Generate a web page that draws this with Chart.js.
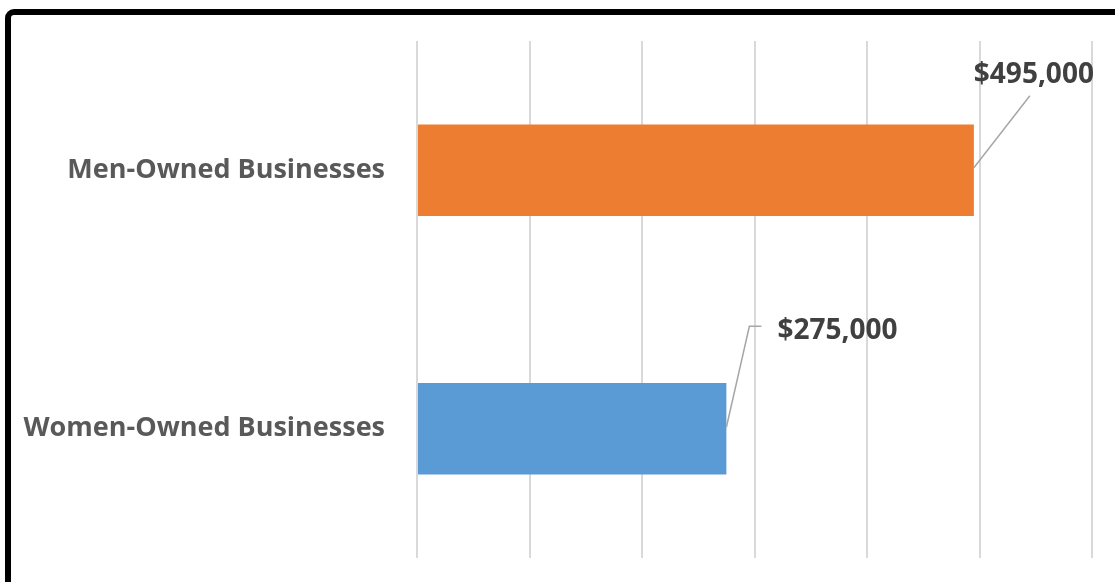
<!DOCTYPE html>
<html>
<head>
<meta charset="utf-8">
<script src="https://cdn.jsdelivr.net/npm/chart.js@4.4.1/dist/chart.umd.min.js"></script>
<style>
  html, body { margin: 0; padding: 0; background: #fff; overflow: hidden; }
  #wrap { position: relative; width: 1115px; height: 582px; }
  #chart { position: absolute; left: 0; top: 0; }
  #frame {
    position: absolute; left: 5px; top: 9px;
    width: 1400px; height: 900px;
    border: 6px solid #000; border-radius: 9px 0 0 0;
    pointer-events: none; box-sizing: border-box;
  }
</style>
</head>
<body>
<div id="wrap">
  <canvas id="chart" width="1115" height="582"></canvas>
  <div id="frame"></div>
</div>
<script>
// Average revenue by business ownership
const categories = ['Men-Owned Businesses', 'Women-Owned Businesses'];
const revenue = [495000, 275000];
const barColors = ['#ED7D31', '#5B9BD5'];
const axisMax = 600000;
const axisStep = 100000;

// Callout placement for each value label, relative to the end of its bar
const callouts = [
  { text: { dx: 60, dy: -87.5, align: 'center' }, leader: [[0, -2.5], [56, -74.5]] },
  { text: { dx: 51, dy: -89.5, align: 'left' }, leader: [[0, -1.5], [23, -102.5], [35, -102.5]] }
];

const money = v => '$' + v.toLocaleString('en-US');

const calloutPlugin = {
  id: 'callouts',
  afterDatasetsDraw(chart) {
    const ctx = chart.ctx;
    const meta = chart.getDatasetMeta(0);
    meta.data.forEach((bar, i) => {
      const c = callouts[i];
      const x0 = bar.x, y0 = bar.y;
      ctx.save();
      ctx.strokeStyle = '#A6A6A6';
      ctx.lineWidth = 1.5;
      ctx.beginPath();
      c.leader.forEach(([dx, dy], k) => {
        if (k === 0) ctx.moveTo(x0 + dx, y0 + dy); else ctx.lineTo(x0 + dx, y0 + dy);
      });
      ctx.stroke();
      ctx.fillStyle = '#404040';
      ctx.font = 'bold 28px "Open Sans"';
      ctx.textAlign = c.text.align;
      ctx.textBaseline = 'alphabetic';
      ctx.fillText(money(chart.data.datasets[0].data[i]), x0 + c.text.dx, y0 + c.text.dy);
      ctx.restore();
    });
  }
};

new Chart(document.getElementById('chart'), {
  type: 'bar',
  data: {
    labels: categories,
    datasets: [{
      data: revenue,
      backgroundColor: barColors,
      borderWidth: 0,
      categoryPercentage: 1,
      barPercentage: 0.353
    }]
  },
  options: {
    indexAxis: 'y',
    responsive: false,
    animation: false,
    devicePixelRatio: 1,
    layout: { padding: { left: 0, right: 23, top: 41, bottom: 24 } },
    plugins: { legend: { display: false }, tooltip: { enabled: false } },
    scales: {
      x: {
        min: 0, max: axisMax,
        ticks: { display: false, stepSize: axisStep },
        grid: { color: '#D9D9D9', lineWidth: 2, drawTicks: false },
        border: { display: false },
        afterFit(scale) {
          scale.height = 0;
          scale.paddingLeft = 0; scale.paddingRight = 0;
          scale.paddingTop = 0; scale.paddingBottom = 0;
        }
      },
      y: {
        ticks: {
          color: '#595959',
          font: { family: '"Open Sans"', size: 27, weight: 'bold' },
          padding: 32
        },
        grid: { display: false, drawTicks: false },
        border: { display: false },
        afterFit(scale) {
          scale.width = 417;
          scale.paddingTop = 0; scale.paddingBottom = 0;
          scale.paddingLeft = 0; scale.paddingRight = 0;
        }
      }
    }
  },
  plugins: [calloutPlugin]
});
</script>
</body>
</html>
